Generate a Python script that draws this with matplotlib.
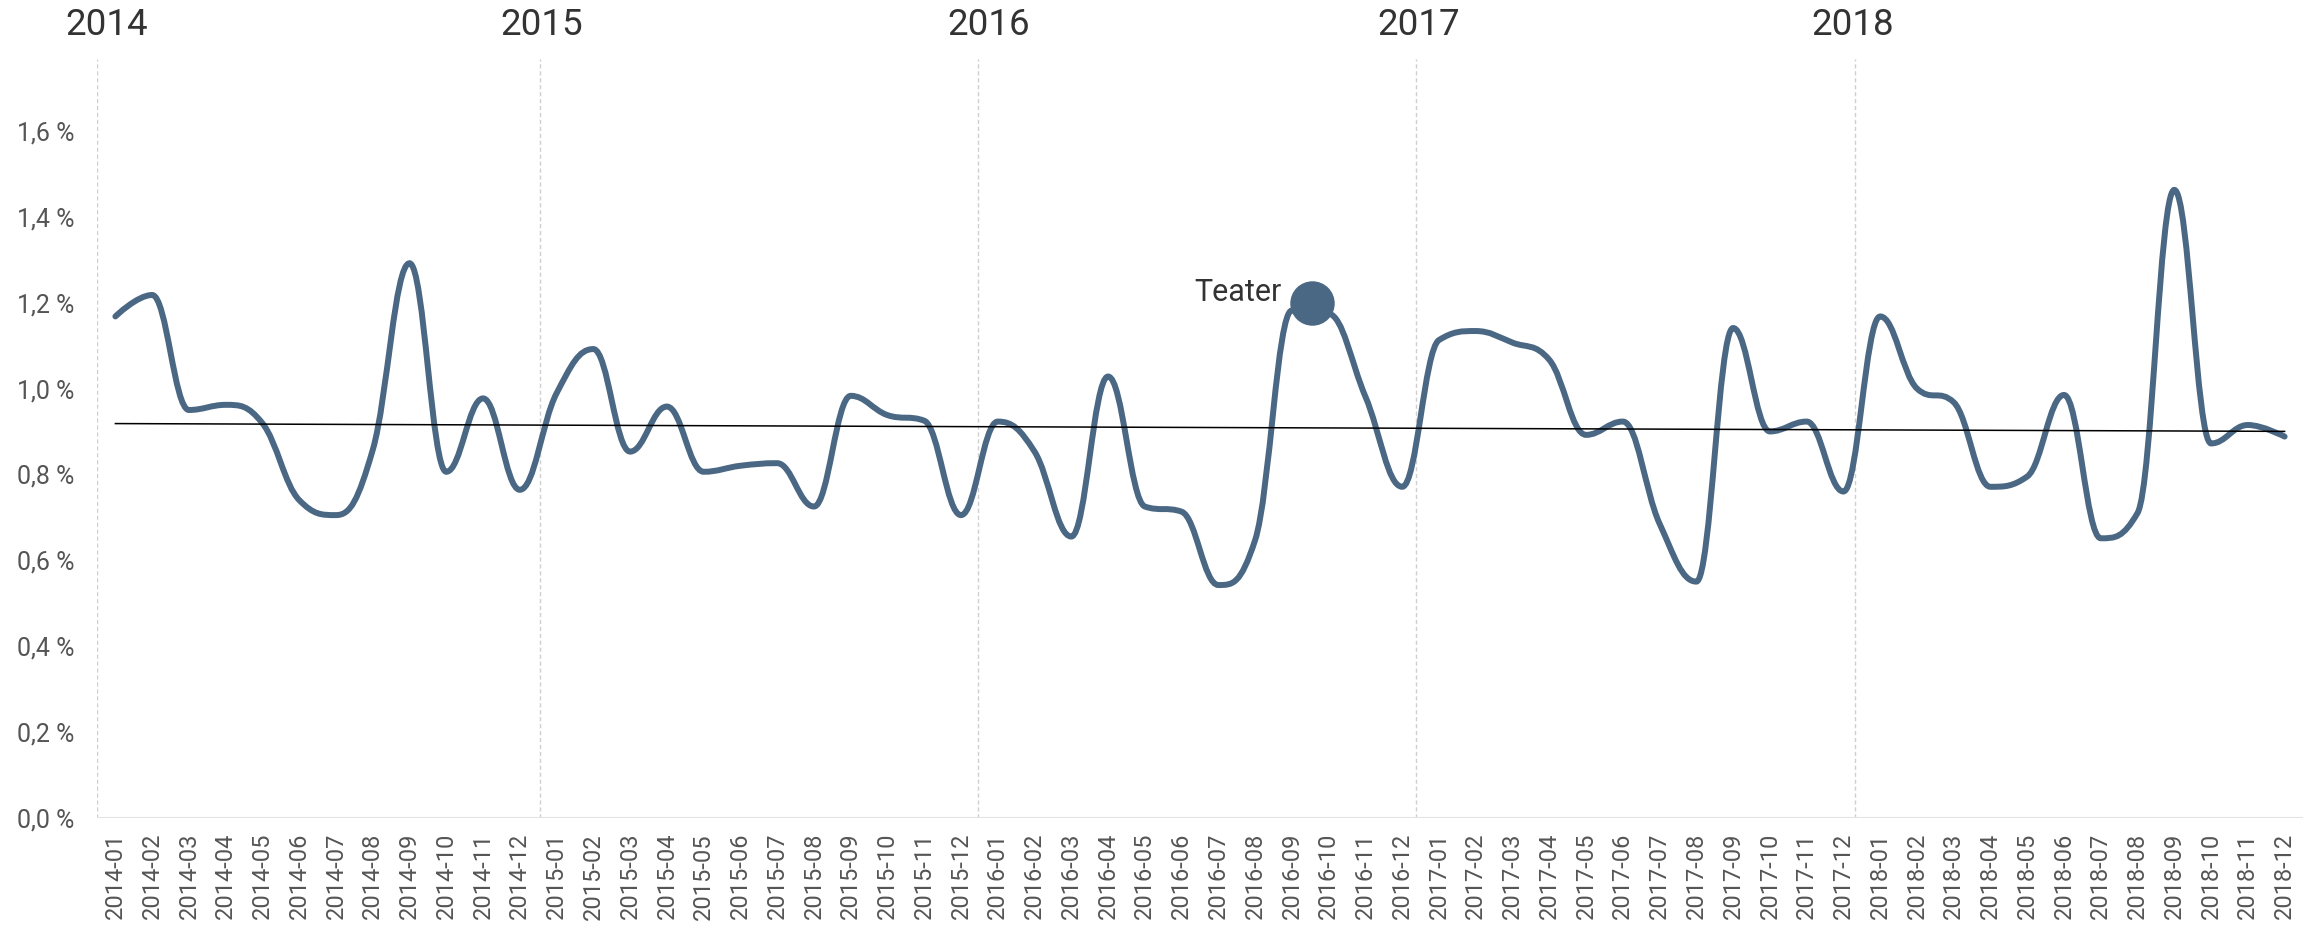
import matplotlib
matplotlib.use("Agg")
import matplotlib.pyplot as plt
import matplotlib.transforms as mtransforms
import numpy as np
from matplotlib.path import Path
from matplotlib.patches import PathPatch

plt.rcParams["font.family"] = ["Roboto", "DejaVu Sans"]

years = [2014, 2015, 2016, 2017, 2018]
months = [f"{y}-{m:02d}" for y in years for m in range(1, 13)]

# share per month, in percent
values = [
    1.168, 1.218, 0.950, 0.962, 0.919, 0.740, 0.705, 0.857, 1.292, 0.806, 0.977, 0.764,
    0.989, 1.092, 0.853, 0.958, 0.806, 0.820, 0.826, 0.725, 0.983, 0.938, 0.925, 0.705,
    0.923, 0.853, 0.655, 1.028, 0.725, 0.713, 0.542, 0.647, 1.182, 1.175, 0.981, 0.771,
    1.113, 1.134, 1.107, 1.067, 0.892, 0.923, 0.685, 0.550, 1.141, 0.900, 0.923, 0.760,
    1.168, 1.000, 0.968, 0.771, 0.795, 0.985, 0.651, 0.710, 1.463, 0.872, 0.915, 0.888,
]

highlight_label = "Teater"
highlight_pos = 32.55
highlight_value = 1.20

yticks = [0.0, 0.2, 0.4, 0.6, 0.8, 1.0, 1.2, 1.4, 1.6]

LINE = "#4a6784"


def spline_path(xs, ys, smoothing=1.5):
    # bezier spline with control points clamped to the neighbours (no false extremes)
    n = len(xs)
    d = smoothing + 1
    left = [(xs[i], ys[i]) for i in range(n)]
    right = [(xs[i], ys[i]) for i in range(n)]
    for i in range(1, n - 1):
        lx = (smoothing * xs[i] + xs[i - 1]) / d
        ly = (smoothing * ys[i] + ys[i - 1]) / d
        rx = (smoothing * xs[i] + xs[i + 1]) / d
        ry = (smoothing * ys[i] + ys[i + 1]) / d
        corr = (ry - ly) * (rx - xs[i]) / (rx - lx) + ys[i] - ry
        ly += corr
        ry += corr
        if ly > ys[i - 1] and ly > ys[i]:
            ly = max(ys[i - 1], ys[i]); ry = 2 * ys[i] - ly
        elif ly < ys[i - 1] and ly < ys[i]:
            ly = min(ys[i - 1], ys[i]); ry = 2 * ys[i] - ly
        if ry > ys[i + 1] and ry > ys[i]:
            ry = max(ys[i + 1], ys[i]); ly = 2 * ys[i] - ry
        elif ry < ys[i + 1] and ry < ys[i]:
            ry = min(ys[i + 1], ys[i]); ly = 2 * ys[i] - ry
        left[i] = (lx, ly)
        right[i] = (rx, ry)
    verts = [(xs[0], ys[0])]
    codes = [Path.MOVETO]
    for i in range(1, n):
        verts += [right[i - 1], left[i], (xs[i], ys[i])]
        codes += [Path.CURVE4] * 3
    return Path(verts, codes)


W, H = 2323, 927
fig = plt.figure(figsize=(W / 100, H / 100), dpi=100)
ax = fig.add_axes([97 / W, 1 - 817.6 / H, (2303 - 97) / W, (817.6 - 59) / H])

x = np.arange(len(values))
y = np.array(values)

ax.add_patch(PathPatch(spline_path(list(x), values), fill=False, edgecolor=LINE, lw=4.3,
                       capstyle="round", joinstyle="round", zorder=3))

# linear trend
k, b = np.polyfit(x, y, 1)
ax.plot([x[0], x[-1]], [k * x[0] + b, k * x[-1] + b], color="black", lw=1.1, zorder=4)

# highlight point
ax.plot([highlight_pos], [highlight_value], "o", ms=31, color=LINE, zorder=5)
ax.annotate(highlight_label, (highlight_pos, highlight_value), xytext=(-22, 7),
            textcoords="offset points", ha="right", va="center",
            fontsize=22, color="#333333")

# year separators and headers
sep_x = [-0.5, 11.55, 23.45, 35.37, 47.32]
year_x = [-0.25, 11.6, 23.75, 35.45, 47.25]
trans = mtransforms.blended_transform_factory(ax.transData, fig.transFigure)
for j, yr in enumerate(years):
    ax.axvline(sep_x[j], color="#cfcfcf", lw=1, ls=(0, (3, 2)), zorder=1)
    ax.text(year_x[j], 0.973, str(yr), transform=trans,
            ha="center", va="center", fontsize=26.5, color="#333333")

ax.axhline(0, color="#e3e3e3", lw=1.5, zorder=1)

ax.set_xlim(-0.5, 59.5)
ax.set_ylim(0, 1.768)
ax.set_xticks(x)
ax.set_xticklabels(months, rotation=90, fontsize=17, color="#555555")
ax.set_yticks(yticks)
ax.set_yticklabels([f"{v:.1f} %".replace(".", ",") for v in yticks], fontsize=18,
                   color="#555555")
ax.tick_params(axis="both", length=0)
ax.tick_params(axis="y", pad=16)
ax.tick_params(axis="x", pad=11)
for s in ax.spines.values():
    s.set_visible(False)

fig.savefig("out.png", dpi=100)
